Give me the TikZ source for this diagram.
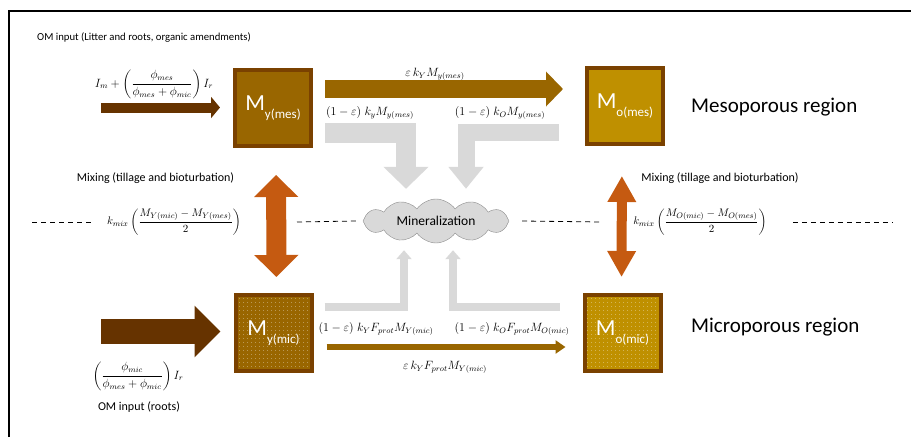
\documentclass[tikz,border=0pt]{standalone}
\usepackage{fontspec}
\setmainfont{Carlito}
\usepackage{amsmath}
\usetikzlibrary{arrows.meta,calc,positioning,patterns.meta,shapes.symbols}

\definecolor{ybrown}{HTML}{996600}
\definecolor{dbrown}{HTML}{663300}
\definecolor{ogold}{HTML}{BF9000}
\definecolor{bordbrown}{HTML}{7A4100}
\definecolor{mixorange}{HTML}{C55A11}
\definecolor{mingray}{HTML}{D9D9D9}
\definecolor{cloudline}{HTML}{8C8C8C}

\newcommand{\poolname}[2]{{\fontsize{23}{23}\selectfont M}\raisebox{-8pt}{\fontsize{13}{13}\selectfont #1(#2)}}

\begin{document}
\begin{tikzpicture}[
    x=1pt, y=-1pt,
    font=\fontsize{12}{14}\selectfont,
    pool/.style={
        draw=bordbrown,
        line width=4pt,
        minimum size=76pt,
        inner sep=0pt,
        text=white,
        fill=#1
    },
    micpool/.style={
        draw=bordbrown,
        line width=4pt,
        minimum size=76pt,
        inner sep=0pt,
        text=white,
        preaction={fill=#1},
        pattern={Dots[distance=4pt,radius=0.45pt]},
        pattern color=white!80!#1
    },
    lbl/.style={font=\fontsize{11.5}{13}\selectfont, inner sep=1pt},
    region/.style={font=\fontsize{21}{24}\selectfont, anchor=west, inner sep=0pt},
    inarr/.style={dbrown, line width=10pt, -{Triangle[length=9pt,width=21pt]}},
    biginarr/.style={dbrown, line width=25pt, -{Triangle[length=26pt,width=50pt]}},
    mesarr/.style={ybrown, line width=18pt, -{Triangle[length=17pt,width=34pt]}},
    micarr/.style={ybrown, line width=6pt, -{Triangle[length=10pt,width=13pt]}},
    mixwide/.style={mixorange, line width=20pt, {Triangle[length=22pt,width=43pt]}-{Triangle[length=22pt,width=43pt]}},
    mixnarrow/.style={mixorange, line width=10pt, {Triangle[length=26pt,width=27pt]}-{Triangle[length=26pt,width=27pt]}},
    downarr/.style 2 args={mingray, line width=#1, -{Triangle[length=22pt,width=#2]}},
    uparr/.style={mingray, line width=8pt, -{Triangle[length=9pt,width=15pt]}},
    dashln/.style={dashed, dash pattern=on 5pt off 4pt, line width=0.8pt}
]
    \useasboundingbox (0,0) rectangle (911,437);
    %% Rahmen
    \draw[line width=2pt] (9,437) -- (9,11) -- (911,11);

    %% Pools
    \node[pool=ybrown] (ymes) at (273,108) {\poolname{y}{mes}};
    \node[pool=ogold] (omes) at (625,106) {\poolname{o}{mes}};
    \node[micpool=ybrown] (ymic) at (273.5,333) {\poolname{y}{mic}};
    \node[micpool=ogold] (omic) at (622.5,333) {\poolname{o}{mic}};

    %% Mineralisierung
    \node[cloud, cloud puffs=12, cloud puff arc=110, cloud ignores aspect,
        fill=mingray, draw=cloudline, minimum width=146pt, minimum height=44pt,
        inner sep=0pt, font=\fontsize{13.5}{15}\selectfont] (mineral) at (436,221) {Mineralization};

    %% Regionen
    \node[region] (mesreg) at (691,107) {Mesoporous region};
    \node[region] (micreg) at (691,327) {Microporous region};

    %% Eintraege
    \node[anchor=west, inner sep=0pt, font=\fontsize{10.7}{12}\selectfont] (omtop) at (37,38) {OM input (Litter and roots, organic amendments)};
    \node[lbl] (inmesf) at (154,84) {$I_m+\left(\dfrac{\phi_{mes}}{\phi_{mes}+\phi_{mic}}\right)I_r$};
    \node[lbl] (inmicf) at (138,376) {$\left(\dfrac{\phi_{mic}}{\phi_{mes}+\phi_{mic}}\right)I_r$};
    \node[inner sep=0pt] (omroots) at (139,407) {OM input (roots)};
    \coordinate (inmes) at (101,107.5);
    \coordinate (inmic) at (101,331.5);

    %% Fluesse
    \node[lbl] (fmes) at (435,74) {$\varepsilon\,k_Y M_{y(mes)}$};
    \node[lbl] (minymes) at (370,113) {$(1-\varepsilon)\;k_y M_{y(mes)}$};
    \node[lbl] (minomes) at (500,113) {$(1-\varepsilon)\;k_O M_{y(mes)}$};
    \node[lbl] (minymic) at (376,329) {$(1-\varepsilon)\;k_Y F_{prot} M_{Y(mic)}$};
    \node[lbl] (minomic) at (512,329) {$(1-\varepsilon)\;k_O F_{prot} M_{O(mic)}$};
    \node[lbl] (fmic) at (445,367) {$\varepsilon\,k_Y F_{prot} M_{Y(mic)}$};

    %% Mischung
    \node[inner sep=0pt] (mixtxtL) at (155.5,178) {Mixing (tillage and bioturbation)};
    \node[inner sep=0pt] (mixtxtR) at (720,178) {Mixing (tillage and bioturbation)};
    \node[lbl, font=\fontsize{11}{13}\selectfont] (mixL) at (174,222) {$k_{mix}\left(\dfrac{M_{Y(mic)}-M_{Y(mes)}}{2}\right)$};
    \node[lbl, font=\fontsize{11}{13}\selectfont] (mixR) at (700,222) {$k_{mix}\left(\dfrac{M_{O(mic)}-M_{O(mes)}}{2}\right)$};

    %% Pfeile
    \draw[inarr, shorten >=13pt] (inmes) -- (ymes.west |- inmes);
    \draw[biginarr, shorten >=13pt] (inmic) -- (ymic.west |- inmic);
    \draw[mesarr, shorten <=12pt, shorten >=22pt] ($(ymes.east)+(0,-19)$) -- ($(omes.west)+(0,-17)$);
    \draw[micarr, shorten <=13pt, shorten >=17pt] ($(ymic.east)+(0,14)$) -- ($(omic.west)+(0,14)$);
    \draw[mixwide, shorten <=27pt, shorten >=16pt] ([xshift=3pt]ymes.south) -- ([xshift=3pt]ymic.north);
    \draw[mixnarrow, shorten <=30pt, shorten >=16pt] ([xshift=-3pt]omes.south) -- ([xshift=-1pt]omic.north);
    \draw[downarr={20pt}{44pt}] ($(ymes.east)+(12,24.5)$) -| ($(mineral.north)+(-30,-10)$);
    \draw[downarr={17pt}{34pt}] ($(omes.west)+(-26,26)$) -| ($(mineral.north)+(30,-10)$);
    \draw[uparr] ($(ymic.east)+(11,-26)$) -| ($(mineral.south)+(-32,7)$);
    \draw[uparr] ($(omic.west)+(-23,-26)$) -| ($(mineral.south)+(17,7)$);

    %% Trennlinien
    \draw[dashln] (32,222) -- ($(mixL.west)+(-12,0)$);
    \draw[dashln] (297,222) -- ($(mineral.west)+(-7,0)$);
    \draw[dashln] ($(mineral.east)+(13,0)$) -- (602,222);
    \draw[dashln] ($(mixR.east)+(25,0)$) -- (892,222);
\end{tikzpicture}
\end{document}
